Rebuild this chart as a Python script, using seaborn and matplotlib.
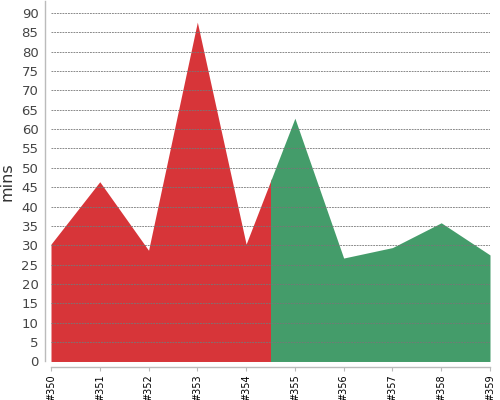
import numpy as np
import matplotlib
matplotlib.use("Agg")
import matplotlib.pyplot as plt
import matplotlib.patches as mpatches
import seaborn as sns

builds = ['#350', '#351', '#352', '#353', '#354', '#355', '#356', '#357', '#358', '#359']
build_nums = [350, 351, 352, 353, 354, 355, 356, 357, 358, 359]
minutes = [30.3, 46.4, 28.7, 87.6, 30.3, 62.8, 26.7, 29.4, 35.8, 27.5]
split_at = 354.5
y_ticks = list(range(0, 95, 5))

sns.set_theme(style="white")
plt.rcParams['font.family'] = ['DejaVu Sans']

fig = plt.figure(figsize=(5, 4), dpi=100)
ax = fig.add_axes([0.102, 0.0963, 0.878, 0.9007])

red = '#D73539'
green = '#449C6A'
poly_r = ax.fill_between(build_nums, 0, minutes, color=red, linewidth=0, zorder=1)
poly_g = ax.fill_between(build_nums, 0, minutes, color=green, linewidth=0, zorder=1)
clip_r = mpatches.Rectangle((340, -10), split_at - 340, 200, transform=ax.transData)
clip_g = mpatches.Rectangle((split_at, -10), 20, 200, transform=ax.transData)
poly_r.set_clip_path(clip_r)
poly_g.set_clip_path(clip_g)

ax.set_xlim(350, 359)
ax.set_ylim(0, 93)
ax.set_xticks(build_nums)
ax.set_xticklabels(builds)
ax.set_yticks(y_ticks)
ax.set_yticklabels([str(v) for v in y_ticks])

ax.set_axisbelow(False)
ax.yaxis.grid(True, color='#777777', linewidth=0.6, linestyle=(0, (2.2, 1.1)))
ax.xaxis.grid(False)

for s in ['top', 'right']:
    ax.spines[s].set_visible(False)
for s in ['left', 'bottom']:
    ax.spines[s].set_color('#bbbbbb')
    ax.spines[s].set_linewidth(1.0)
    ax.spines[s].set_position(('outward', 4))

ax.tick_params(axis='y', length=0, pad=5, labelsize=9.5, labelcolor='#444444')
ax.tick_params(axis='x', length=3, width=0.8, color='#bbbbbb', pad=2, bottom=True,
               labelrotation=90, labelsize=7, labelcolor='#000000')

ax.set_ylabel('mins', fontsize=11.5, color='#333333', labelpad=5)

fig.savefig('out.png', dpi=100)
